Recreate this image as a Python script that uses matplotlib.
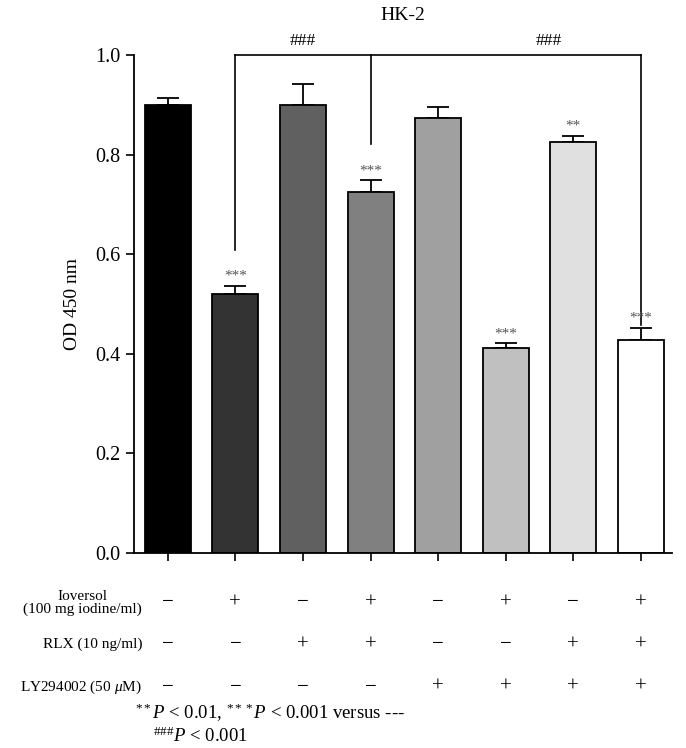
import matplotlib
matplotlib.use("Agg")
import matplotlib.pyplot as plt
import numpy as np

plt.rcParams['font.family'] = ['Liberation Serif', 'DejaVu Serif']
plt.rcParams['mathtext.fontset'] = 'custom'
plt.rcParams['mathtext.rm'] = 'Liberation Serif'
plt.rcParams['mathtext.it'] = 'Liberation Serif:italic'

groups = ["G1", "G2", "G3", "G4", "G5", "G6", "G7", "G8"]
means = [0.900, 0.520, 0.900, 0.724, 0.873, 0.411, 0.826, 0.428]
errs = [0.013, 0.017, 0.042, 0.024, 0.022, 0.010, 0.012, 0.024]
colors = ["#000000", "#333333", "#606060", "#808080", "#a0a0a0", "#c0c0c0", "#e0e0e0", "#ffffff"]
stars = ["", "***", "", "***", "", "***", "**", "***"]
ioversol = ["−", "+", "−", "+", "−", "+", "−", "+"]
rlx = ["−", "−", "+", "+", "−", "−", "+", "+"]
ly = ["−", "−", "−", "−", "+", "+", "+", "+"]
row_labels = ["Ioversol\n(100 mg iodine/ml)", "RLX (10 ng/ml)", "LY294002 (50 $\\mu$M)"]

fig = plt.figure(figsize=(6.86, 7.48), dpi=100)
ax = fig.add_axes([0.1953, 0.2607, 0.7843, 0.6658])
x = np.arange(len(groups))
ax.bar(x, means, width=0.68, color=colors, edgecolor="black", linewidth=1.3, zorder=2)
ax.errorbar(x, means, yerr=[np.zeros(len(x)), errs], fmt="none", ecolor="black",
            elinewidth=1.3, capsize=8, capthick=1.3, zorder=1)
for xi, m, e, s in zip(x, means, errs, stars):
    if s:
        ax.text(xi, m + e + 0.006, s, ha="center", va="bottom", fontsize=11, color="#555555")

ax.set_xlim(-0.5, 7.46)
ax.set_ylim(0, 1.0)
ax.set_yticks([0, 0.2, 0.4, 0.6, 0.8, 1.0])
ax.set_yticklabels(["0.0", "0.2", "0.4", "0.6", "0.8", "1.0"])
ax.set_xticks(x)
ax.set_xticklabels([])
ax.tick_params(axis="y", direction="out", length=6, width=1.2, labelsize=14.5, pad=4)
ax.tick_params(axis="x", direction="out", length=6, width=1.2)
for sp in ["top", "right"]:
    ax.spines[sp].set_visible(False)
for sp in ["left", "bottom"]:
    ax.spines[sp].set_linewidth(1.3)
ax.set_ylabel("OD 450 nm", fontsize=14, labelpad=10)
fig.text(0.1953 + 0.7843 / 2, 1 - 15 / 748, "HK-2", ha="center", va="center", fontsize=14)

# significance brackets
lw = 1.2
ax.plot([1, 7], [1.0, 1.0], color="black", lw=lw, clip_on=False)
ax.plot([1, 1], [1.0, 0.608], color="black", lw=lw, clip_on=False)
ax.plot([3, 3], [1.0, 0.822], color="black", lw=lw, clip_on=False)
ax.plot([7, 7], [1.0, 0.458], color="black", lw=lw, clip_on=False)
ax.text(2, 1.012, "###", ha="center", va="bottom", fontsize=12.5)
ax.text(5.63, 1.012, "###", ha="center", va="bottom", fontsize=12.5)

# treatment table
trans = ax.get_xaxis_transform()
rows_y = [-0.10, -0.184, -0.27]
for ry, lab, vals in zip(rows_y, row_labels, [ioversol, rlx, ly]):
    ax.text(-0.38, ry, lab, ha="right", va="center", fontsize=11,
            multialignment="center", transform=trans, linespacing=0.95)
    for xi, v in zip(x, vals):
        ax.text(xi, ry, v, ha="center", va="center", fontsize=15, transform=trans)

fig.text(135 / 686, 1 - 713 / 748, "$^{**}P$ < 0.01, $^{***}P$ < 0.001 versus ---",
         ha="left", va="center", fontsize=13.5)
fig.text(153 / 686, 1 - 736 / 748, "$^{\\#\\#\\#}P$ < 0.001", ha="left", va="center", fontsize=13.5)

fig.savefig("out.png", dpi=100)
